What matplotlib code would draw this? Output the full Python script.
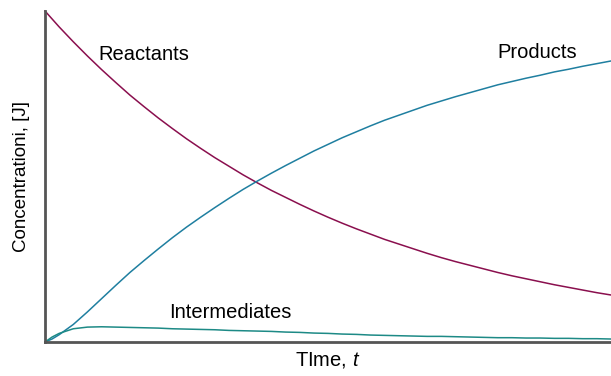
import matplotlib
matplotlib.use("Agg")
import matplotlib.pyplot as plt

plt.rcParams['font.family'] = 'Liberation Sans'
plt.rcParams['mathtext.fontset'] = 'custom'
plt.rcParams['mathtext.it'] = 'Liberation Sans:italic'

# time grid and concentrations
tiempo = [0, 0.125, 0.25, 0.5, 0.75, 1, 1.25, 1.5, 1.75, 2, 2.25, 2.5, 2.75,
          3, 3.25, 3.5, 3.75, 4, 4.25, 4.5, 4.75, 5, 5.25, 5.5, 5.75, 6,
          6.25, 6.5, 6.75, 7, 7.25, 7.5, 7.75, 8, 8.25, 8.5, 8.75, 9, 9.25,
          9.5, 9.75, 10]
reactivos = [1.0, 0.976, 0.952, 0.907, 0.864, 0.823, 0.784, 0.746, 0.711,
             0.677, 0.645, 0.614, 0.585, 0.557, 0.531, 0.505, 0.481, 0.458,
             0.437, 0.416, 0.396, 0.377, 0.359, 0.342, 0.326, 0.310, 0.296,
             0.282, 0.268, 0.255, 0.243, 0.232, 0.221, 0.210, 0.200, 0.191,
             0.182, 0.173, 0.165, 0.157, 0.149, 0.142]
intermedios = [0, 0.015, 0.026, 0.040, 0.045, 0.046, 0.045, 0.044, 0.043,
               0.042, 0.040, 0.039, 0.038, 0.037, 0.035, 0.034, 0.033, 0.032,
               0.030, 0.029, 0.027, 0.026, 0.024, 0.023, 0.021, 0.020, 0.019,
               0.018, 0.017, 0.017, 0.016, 0.015, 0.014, 0.013, 0.013, 0.012,
               0.012, 0.011, 0.011, 0.010, 0.010, 0.009]
productos = [0, 0.009, 0.022, 0.053, 0.091, 0.131, 0.171, 0.210, 0.246,
             0.281, 0.315, 0.347, 0.377, 0.406, 0.434, 0.461, 0.486, 0.510,
             0.533, 0.555, 0.577, 0.597, 0.617, 0.635, 0.653, 0.670, 0.685,
             0.700, 0.715, 0.728, 0.741, 0.753, 0.765, 0.777, 0.787, 0.797,
             0.806, 0.816, 0.824, 0.833, 0.841, 0.849]

fig = plt.figure(figsize=(6.11, 3.76), dpi=100)
ax = fig.add_axes([45/611, 34/376, 566/611, 331/376])

ax.plot(tiempo, reactivos, color='#8a0f4e', lw=1.1, clip_on=False)
ax.plot(tiempo, productos, color='#1f7fa0', lw=1.1, clip_on=False)
ax.plot(tiempo, intermedios, color='#1d8a86', lw=1.1, clip_on=False)

ax.set_xlim(0, 10)
ax.set_ylim(0, 1)
ax.spines['top'].set_visible(False)
ax.spines['right'].set_visible(False)
ax.spines['left'].set_color('#555555')
ax.spines['bottom'].set_color('#555555')
ax.spines['left'].set_linewidth(2)
ax.spines['bottom'].set_linewidth(2)
ax.set_xticks([])
ax.set_yticks([])

ax.text(0.95, 0.87, 'Reactants', fontsize=14.5, va='center')
ax.text(8.0, 0.875, 'Products', fontsize=14.5, va='center')
ax.text(2.2, 0.088, 'Intermediates', fontsize=14.5, va='center')

ax.set_xlabel('TIme, $t$', fontsize=14.5, labelpad=6)
ax.set_ylabel('Concentrationi, [J]', fontsize=13.5, labelpad=11)

fig.savefig('out.png', dpi=100)
